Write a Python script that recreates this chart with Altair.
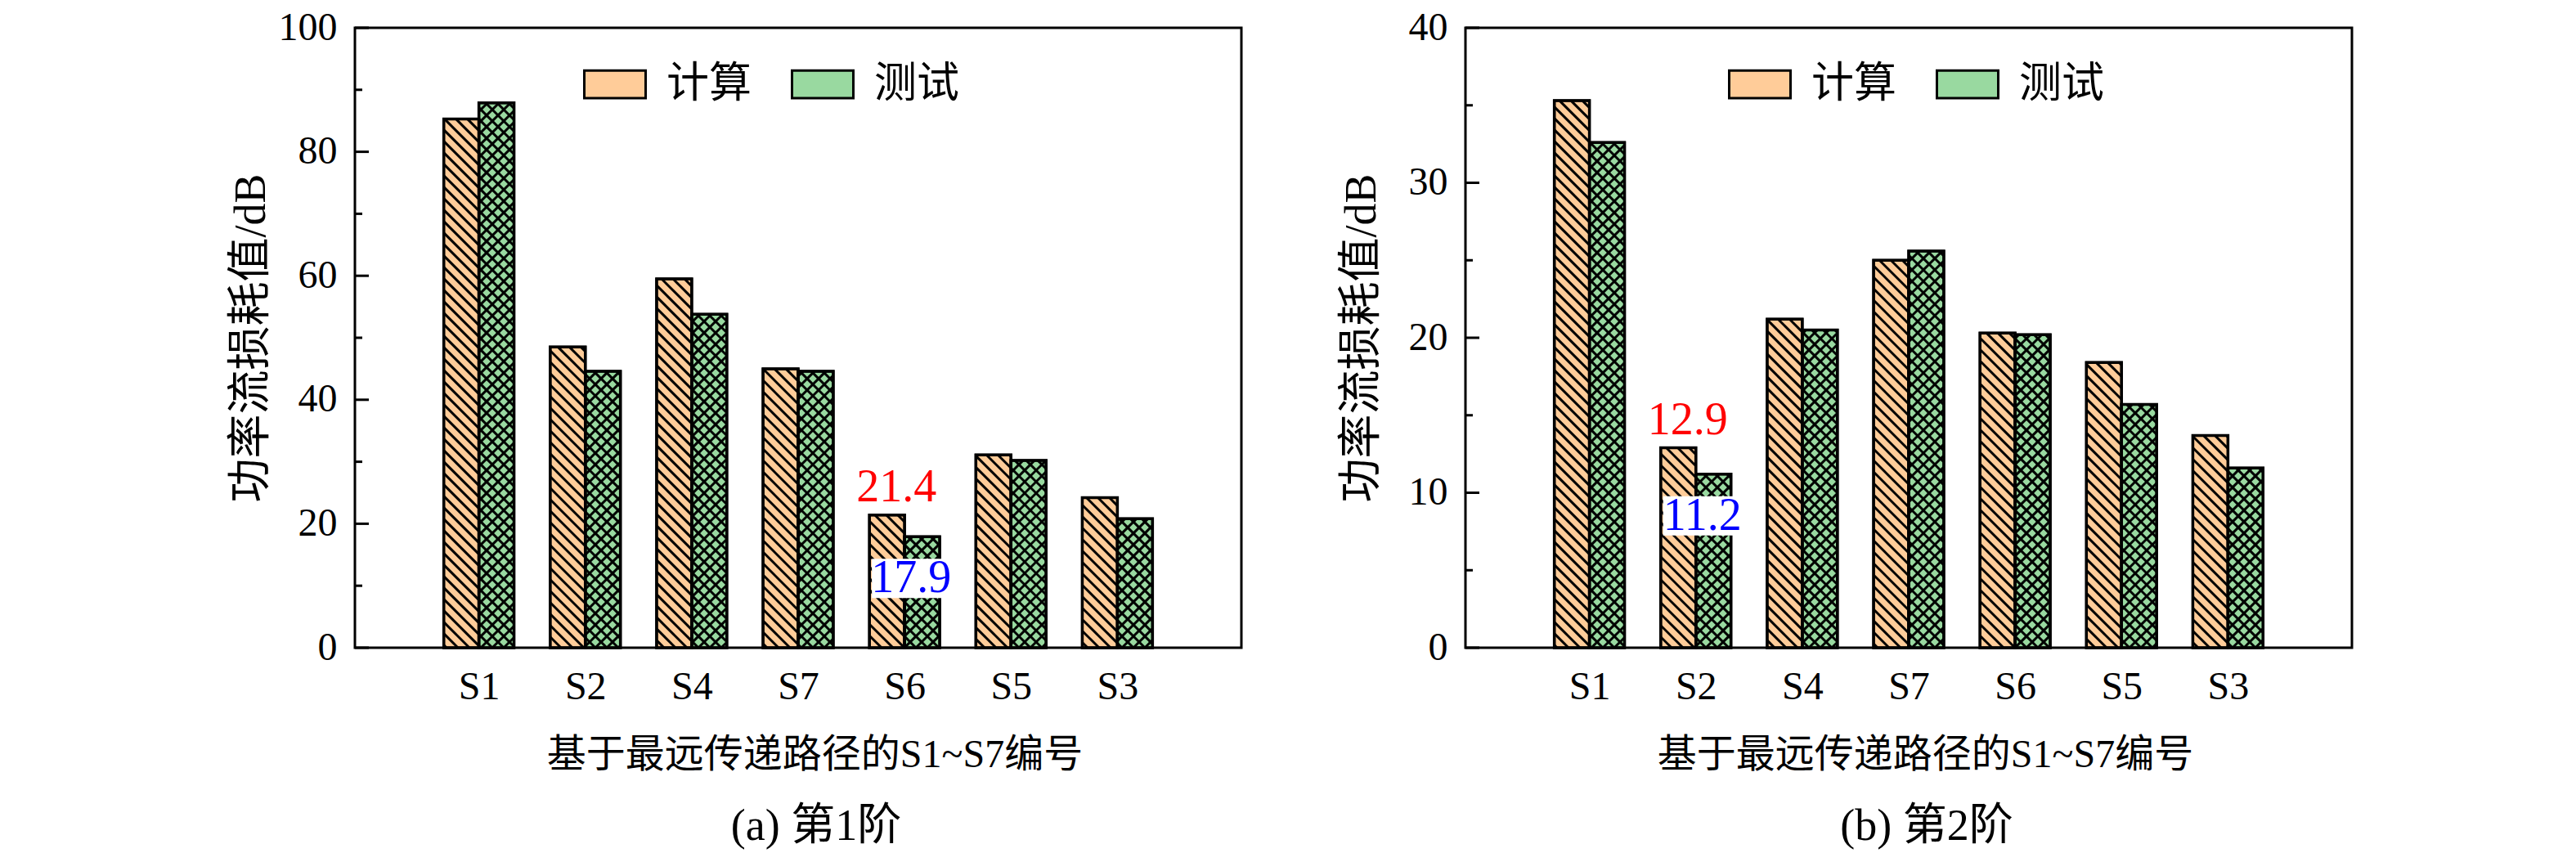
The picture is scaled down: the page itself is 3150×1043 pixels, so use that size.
import math

import altair as alt
import pandas as pd

CATS = ["S1", "S2", "S4", "S7", "S6", "S5", "S3"]
SERIES = ["计算", "测试"]

CALC_1 = [85.3, 48.5, 59.5, 45.0, 21.4, 31.1, 24.2]
TEST_1 = [87.9, 44.6, 53.8, 44.6, 17.9, 30.2, 20.8]
CALC_2 = [35.3, 12.9, 21.2, 25.0, 20.3, 18.4, 13.7]
TEST_2 = [32.6, 11.2, 20.5, 25.6, 20.2, 15.7, 11.6]

YMAX_1, YSTEP_1 = 100, 20
YMAX_2, YSTEP_2 = 40, 10
MARK_1 = "S6"
MARK_2 = "S2"

X_TITLE = "基于最远传递路径的S1~S7编号"
Y_TITLE = "功率流损耗值/dB"
SUB_1 = "(a) 第1阶"
SUB_2 = "(b) 第2阶"

FONT = "Liberation Serif, Noto Sans CJK SC"
ORANGE = "#FFCC99"
GREEN = "#99D9A0"

W, H = 1084, 758
XMIN, XMAX = 1 - 1.165, 7 + 1.165
BAR_W = 0.33
GAP = 14  # hatch spacing in px


def hatch(x0, x1, top, sx, sy, slopes):
    """Clip 45 degree hatch lines to one bar, returned in data units."""
    p0, p1 = (x0 - XMIN) * sx, (x1 - XMIN) * sx
    h = top * sy
    segs = []
    for s in slopes:
        cmin, cmax = (p0, p1 + h) if s < 0 else (-p1, h - p0)
        c = math.ceil(cmin / GAP) * GAP
        while c < cmax:
            if s < 0:
                pa, pb = max(p0, c - h), min(p1, c)
            else:
                pa, pb = max(p0, -c), min(p1, h - c)
            if pb - pa > 0.5:
                segs.append({
                    "xa": pa / sx + XMIN, "ya": (s * pa + c) / sy,
                    "xb": pb / sx + XMIN, "yb": (s * pb + c) / sy,
                })
            c += GAP
    return segs


def panel(calc, test, ymax, ystep, mark, sub, legend_x, title_pad):
    sx = W / (XMAX - XMIN)
    sy = H / ymax
    rows, segs = [], []
    for i, (name, a, b) in enumerate(zip(CATS, calc, test), start=1):
        rows.append({"idx": i, "name": name, "series": SERIES[0], "value": a,
                     "x0": i - BAR_W, "x1": i})
        rows.append({"idx": i, "name": name, "series": SERIES[1], "value": b,
                     "x0": i, "x1": i + BAR_W})
        segs += hatch(i - BAR_W, i, a, sx, sy, [-1])
        segs += hatch(i, i + BAR_W, b, sx, sy, [-1, 1])
    df = pd.DataFrame(rows)
    hdf = pd.DataFrame(segs)

    xscale = alt.Scale(domain=[XMIN, XMAX], nice=False, zero=False)
    yscale = alt.Scale(domain=[0, ymax], nice=False)
    label_expr = "[" + ",".join(f"'{c}'" for c in CATS) + "][datum.value - 1]"

    bars = alt.Chart(df).mark_rect(stroke="black", strokeWidth=3).encode(
        x=alt.X("x0:Q", scale=xscale, title=X_TITLE, axis=alt.Axis(
            values=list(range(1, 8)), labelExpr=label_expr, ticks=False,
            tickSize=0, grid=False, domain=False, labelFont=FONT,
            labelFontSize=48, labelColor="black", labelPadding=24,
            titleFont=FONT, titleFontSize=48,
            titleFontWeight="normal", titleColor="black", titlePadding=35,
            titleX=W / 2 + 20)),
        x2="x1:Q",
        y=alt.Y("value:Q", scale=yscale, title=Y_TITLE, axis=alt.Axis(
            values=list(range(0, ymax + 1, ystep)), format="d", ticks=False,
            tickSize=0, grid=False, domain=False, labelFont=FONT,
            labelFontSize=48, labelColor="black", labelPadding=22,
            titleFont=FONT, titleFontSize=54,
            titleFontWeight="normal", titleColor="black",
            titlePadding=title_pad)),
        y2=alt.datum(0),
        fill=alt.Fill("series:N", scale=alt.Scale(domain=SERIES, range=[ORANGE, GREEN]),
                      legend=alt.Legend(
                          title=None, orient="none", legendX=legend_x, legendY=30,
                          direction="horizontal", symbolType="M-1,-0.45H1V0.45H-1Z",
                          symbolSize=5625, symbolStrokeColor="black",
                          symbolStrokeWidth=3, symbolOpacity=1, labelFont=FONT,
                          labelFontSize=52, labelColor="black", labelOffset=24,
                          columnPadding=42, padding=0)),
    )

    lines = alt.Chart(hdf).mark_rule(color="black", strokeWidth=3).encode(
        x=alt.X("xa:Q", scale=xscale),
        x2="xb:Q",
        y=alt.Y("ya:Q", scale=yscale),
        y2="yb:Q",
    )

    outline = alt.Chart(df).mark_rect(
        stroke="black", strokeWidth=3.5, fillOpacity=0, fill="white"
    ).encode(
        x=alt.X("x0:Q", scale=xscale),
        x2="x1:Q",
        y=alt.Y("value:Q", scale=yscale),
        y2=alt.datum(0),
    )

    major = pd.DataFrame({"v": list(range(0, ymax + 1, ystep))})
    minor = pd.DataFrame({"v": [v + ystep / 2 for v in range(0, ymax, ystep)]})
    tick_major = alt.Chart(major).mark_rule(color="black", strokeWidth=3).encode(
        x=alt.value(0), x2=alt.value(17), y=alt.Y("v:Q", scale=yscale))
    tick_minor = alt.Chart(minor).mark_rule(color="black", strokeWidth=3).encode(
        x=alt.value(0), x2=alt.value(9), y=alt.Y("v:Q", scale=yscale))

    k = CATS.index(mark)
    note = pd.DataFrame({
        "idx": [k + 1, k + 1],
        "value": [calc[k], test[k]],
        "label": [f"{calc[k]:.1f}", f"{test[k]:.1f}"],
    })
    red = alt.Chart(note.iloc[[0]]).mark_text(
        font=FONT, fontSize=56, color="#FF0000", baseline="alphabetic",
        align="center", dx=-10, dy=-17,
    ).encode(x=alt.X("idx:Q", scale=xscale),
             y=alt.Y("value:Q", scale=yscale), text="label:N")
    box = alt.Chart(note.iloc[[1]]).mark_point(
        shape="M-1,-0.5H1V0.5H-1Z", size=9216, filled=True, fill="white",
        opacity=1, strokeWidth=0, xOffset=8, yOffset=51,
    ).encode(x=alt.X("idx:Q", scale=xscale),
             y=alt.Y("value:Q", scale=yscale))
    blue = alt.Chart(note.iloc[[1]]).mark_text(
        font=FONT, fontSize=56, color="#0000FF", baseline="alphabetic",
        align="center", dx=8, dy=68,
    ).encode(x=alt.X("idx:Q", scale=xscale),
             y=alt.Y("value:Q", scale=yscale), text="label:N")

    return alt.layer(
        bars, lines, outline, tick_major, tick_minor, red, box, blue
    ).properties(
        width=W, height=H,
        title=alt.TitleParams(sub, orient="bottom", font=FONT, fontSize=54,
                              fontWeight="normal", color="black", offset=37,
                              frame="group", dx=22),
    )


left = panel(CALC_1, TEST_1, YMAX_1, YSTEP_1, MARK_1, SUB_1, 279, 6)
right = panel(CALC_2, TEST_2, YMAX_2, YSTEP_2, MARK_2, SUB_2, 321, 30)

chart = (
    alt.hconcat(left, right, spacing=116)
    .resolve_scale(x="independent", y="independent", fill="independent")
    .resolve_legend(fill="independent")
    .properties(padding={"left": 270, "top": 0, "right": 0, "bottom": 0})
    .configure_view(stroke="black", strokeWidth=3)
)

chart.save("out.html", embed_options={"renderer": "svg", "actions": False})
